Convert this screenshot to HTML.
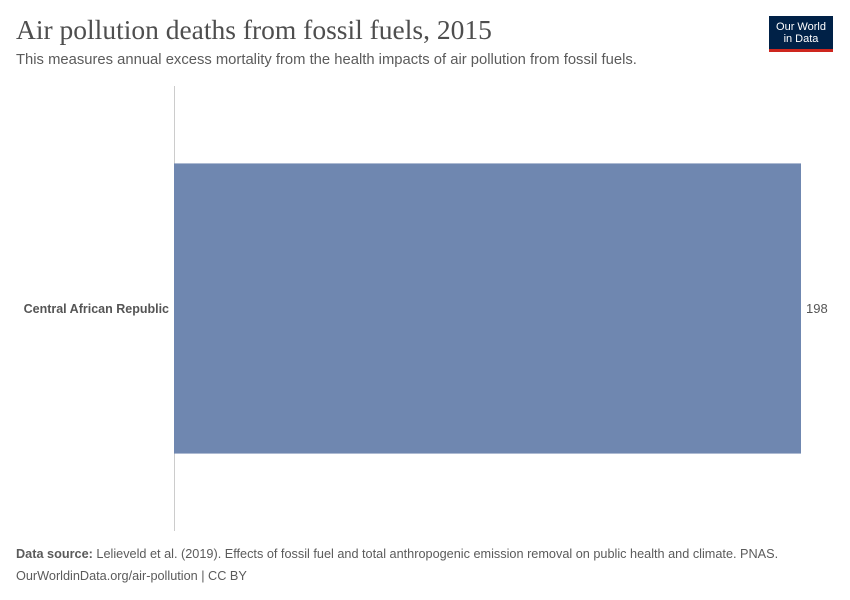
<!DOCTYPE html>
<html><head><meta charset="utf-8"><style>
body{margin:0;width:850px;height:600px;background:#fff;position:relative;font-family:"Liberation Sans",sans-serif;overflow:hidden}
.t{position:absolute;white-space:nowrap}
</style></head><body>
<div class="t" style="left:16px;top:14px;font-family:'Liberation Serif',serif;font-size:27.5px;color:#4e4e4e">Air pollution deaths from fossil fuels, 2015</div>
<div class="t" style="left:16px;top:52px;font-size:14.8px;color:#5b5b5b">This measures annual excess mortality from the health impacts of air pollution from fossil fuels.</div>
<div style="position:absolute;left:769px;top:16px;width:64px;height:36px;background:#002147;border-bottom:3px solid #ce261e;box-sizing:border-box;color:#fff;font-size:11px;line-height:12px;text-align:center;padding-top:5px">Our World<br>in Data</div>
<svg id="c" width="850" height="600" style="position:absolute;left:0;top:0"></svg>
<div class="t" style="left:16px;top:547px;font-size:12.7px;color:#5b5b5b"><b>Data source:</b> Lelieveld et al. (2019). Effects of fossil fuel and total anthropogenic emission removal on public health and climate. PNAS.</div>
<div class="t" style="left:16px;top:569px;font-size:12.7px;color:#5b5b5b">OurWorldinData.org/air-pollution | CC BY</div>
<script>
const categories=["Central African Republic"];
const values=[198];
const valueLabels=["198"];
const svg=document.getElementById('c');const NS='http://www.w3.org/2000/svg';
const x0=174,x1=801,xmax=198,yTop=86,yBot=531;
const x=v=>x0+(v/xmax)*(x1-x0);
const band=(yBot-yTop)/categories.length;
function mk(t,a){const e=document.createElementNS(NS,t);for(const k in a)e.setAttribute(k,a[k]);svg.appendChild(e);return e;}
const ax=mk('line',{x1:x0+0.5,x2:x0+0.5,y1:yTop,y2:yBot,stroke:'#ccc'});


categories.forEach((c,i)=>{
 const cy=yTop+band*(i+0.5),h=band*0.652;
 const r=mk('rect',{x:x0,y:cy-h/2,width:x(values[i])-x0,height:h,fill:'#6f87b0'});
 
 
 const l=mk('text',{x:x0-5,y:cy+4.5,'text-anchor':'end','font-size':12.5,'font-weight':'bold',fill:'#555'});l.textContent=c;
 
 
 const v=mk('text',{x:x(values[i])+5,y:cy+4.5,'font-size':13,fill:'#555'});v.textContent=valueLabels[i];
 
 
});
</script>
</body></html>
